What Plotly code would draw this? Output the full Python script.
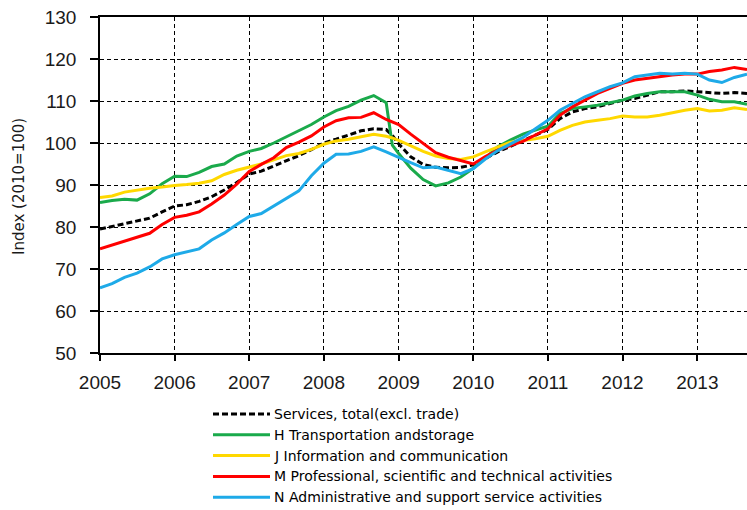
import plotly.graph_objects as go

# ---------------- data ----------------
dates = [
    "2005-01-01", "2005-03-01", "2005-05-01", "2005-07-01", "2005-09-01", "2005-11-01",
    "2006-01-01", "2006-03-01", "2006-05-01", "2006-07-01", "2006-09-01", "2006-11-01",
    "2007-01-01", "2007-03-01", "2007-05-01", "2007-07-01", "2007-09-01", "2007-11-01",
    "2008-01-01", "2008-03-01", "2008-05-01", "2008-07-01", "2008-09-01", "2008-11-01", "2008-12-01",
    "2009-01-01", "2009-03-01", "2009-05-01", "2009-07-01", "2009-09-01", "2009-11-01",
    "2010-01-01", "2010-03-01", "2010-05-01", "2010-07-01", "2010-09-01", "2010-11-01",
    "2011-01-01", "2011-03-01", "2011-05-01", "2011-07-01", "2011-09-01", "2011-11-01",
    "2012-01-01", "2012-03-01", "2012-05-01", "2012-07-01", "2012-09-01", "2012-11-01",
    "2013-01-01", "2013-03-01", "2013-05-01", "2013-07-01", "2013-09-01",
]

services_total = [
    79.5, 80.1, 80.7, 81.3, 82.1, 83.6,
    85.0, 85.3, 86.1, 87.2, 88.8, 90.6,
    92.6, 93.3, 94.5, 95.8, 97.0, 98.4,
    100.0, 100.9, 101.9, 102.9, 103.4, 103.2, 101.8,
    99.8, 96.7, 94.9, 94.2, 94.1, 94.2,
    94.8, 96.3, 97.9, 99.2, 100.5, 101.8,
    103.2, 105.8, 107.4, 108.2, 108.6, 109.4,
    110.2, 110.6, 111.4, 112.2, 112.2, 112.4,
    112.2, 112.0, 111.8, 112.0, 111.8,
]

h_transport = [
    85.8, 86.3, 86.6, 86.4, 87.9, 90.3,
    92.1, 92.0, 93.0, 94.4, 95.0, 96.9,
    98.0, 98.7, 100.0, 101.5, 102.9, 104.4,
    106.2, 107.7, 108.7, 110.2, 111.3, 109.6, 99.5,
    97.5, 94.0, 91.3, 89.8, 90.5, 91.9,
    94.0, 96.4, 99.1, 100.7, 102.1, 103.1,
    104.0, 107.0, 108.2, 108.6, 109.0, 109.6,
    110.2, 111.2, 111.8, 112.2, 112.2, 112.2,
    111.4, 110.4, 109.8, 109.8, 109.2,
]

j_information = [
    87.0, 87.4, 88.3, 88.8, 89.2, 89.5,
    89.9, 90.1, 90.4, 91.0, 92.5, 93.5,
    94.3, 95.0, 96.0, 97.0, 97.5, 98.5,
    99.7, 100.5, 100.9, 101.5, 102.1, 101.6, 101.2,
    100.6, 99.3, 98.0, 96.9, 96.3, 96.1,
    96.7, 97.9, 99.1, 100.2, 100.6, 101.0,
    101.6, 103.0, 104.2, 105.0, 105.4, 105.8,
    106.4, 106.2, 106.2, 106.6, 107.2, 107.8,
    108.2, 107.6, 107.8, 108.4, 108.0,
]

m_professional = [
    74.8, 75.7, 76.7, 77.6, 78.5, 80.6,
    82.3, 82.8, 83.6, 85.5, 87.6, 90.2,
    93.2, 94.9, 96.5, 98.9, 100.2, 101.7,
    103.8, 105.3, 106.0, 106.1, 107.2, 105.6, 105.0,
    104.4, 102.1, 99.9, 97.7, 96.6, 95.8,
    95.0, 96.8, 98.3, 99.4, 100.4, 101.9,
    103.4, 106.6, 108.6, 110.2, 111.8, 113.0,
    114.2, 115.0, 115.4, 115.8, 116.2, 116.4,
    116.4, 117.0, 117.4, 118.0, 117.5,
]

n_administrative = [
    65.5, 66.5, 68.0, 69.0, 70.5, 72.4,
    73.4, 74.0, 74.8, 76.9, 78.6, 80.6,
    82.5, 83.2, 85.0, 86.9, 88.6, 92.2,
    95.2, 97.3, 97.4, 98.0, 99.1, 97.9, 97.3,
    96.6, 95.3, 94.1, 94.3, 93.5, 92.7,
    93.9, 96.2, 98.2, 99.7, 101.3, 103.4,
    105.4, 107.8, 109.4, 111.0, 112.2, 113.4,
    114.3, 115.8, 116.2, 116.6, 116.4, 116.6,
    116.4, 115.0, 114.4, 115.6, 116.4,
]

series_names = [
    "Services, total(excl. trade)",
    "H Transportation andstorage",
    "J Information and communication",
    "M Professional, scientific and technical activities",
    "N Administrative and support service activities",
]

x_tick_vals = ["2005-01-01", "2006-01-01", "2007-01-01", "2008-01-01", "2009-01-01",
               "2010-01-01", "2011-01-01", "2012-01-01", "2013-01-01"]
x_tick_text = ["2005", "2006", "2007", "2008", "2009", "2010", "2011", "2012", "2013"]
y_ticks = [50, 60, 70, 80, 90, 100, 110, 120, 130]

# ---------------- style ----------------
W, H = 747, 510
ML, MR, MT, MB = 100, 0, 17, 157
PW, PH = W - ML - MR, H - MT - MB

colors = ["#000000", "#1aaa4b", "#ffd800", "#ff0000", "#1eaae8"]
dashes = ["6px,3px", "solid", "solid", "solid", "solid"]
values = [services_total, h_transport, j_information, m_professional, n_administrative]

tick_font = dict(family="Liberation Sans, Arial", size=19, color="#1a1a1a")
text_font = dict(family="DejaVu Sans, Verdana", size=14, color="#000000")

fig = go.Figure()
for name, vals, col, dsh in zip(series_names, values, colors, dashes):
    fig.add_trace(go.Scatter(
        x=dates, y=vals, mode="lines", name=name, showlegend=False,
        line=dict(color=col, width=3, dash=dsh),
    ))

def px_x(p):
    return (p - ML) / PW

def px_y(p):
    return (H - MB - p) / PH

shapes = []
annotations = []
for i, (name, col, dsh) in enumerate(zip(series_names, colors, dashes)):
    yy = px_y(414 + i * 20.8)
    shapes.append(dict(type="line", xref="paper", yref="paper",
                       x0=px_x(213), x1=px_x(270), y0=yy, y1=yy,
                       line=dict(color=col, width=3, dash=dsh)))
    annotations.append(dict(xref="paper", yref="paper", x=px_x(272), y=yy,
                            xanchor="left", yanchor="middle", showarrow=False,
                            text=name, font=text_font))

annotations.append(dict(xref="paper", yref="paper", x=px_x(19), y=px_y(187),
                        xanchor="center", yanchor="middle", showarrow=False,
                        textangle=-90, text="Index (2010=100)",
                        font=dict(family="DejaVu Sans, Verdana", size=15, color="#1a1a1a")))

fig.update_layout(
    width=W, height=H,
    margin=dict(l=ML, r=MR, t=MT, b=MB, pad=0),
    paper_bgcolor="white", plot_bgcolor="white",
    shapes=shapes, annotations=annotations,
    showlegend=False,
)
fig.update_xaxes(
    type="date", range=["2005-01-01", "2013-09-01"],
    tickmode="array", tickvals=x_tick_vals, ticktext=x_tick_text,
    showgrid=True, gridcolor="black", gridwidth=1, griddash="4px,3px",
    showline=True, linecolor="black", linewidth=1.5, mirror=True,
    ticks="outside", ticklen=6, tickcolor="black", tickwidth=1.5,
    tickfont=tick_font, ticklabelstandoff=5, zeroline=False,
)
fig.update_yaxes(
    range=[50, 130], tickmode="array", tickvals=y_ticks,
    showgrid=True, gridcolor="black", gridwidth=1, griddash="4px,3px",
    showline=True, linecolor="black", linewidth=1.5,
    ticks="outside", ticklen=8, tickcolor="black", tickwidth=1.5,
    tickfont=tick_font, ticklabelstandoff=10, zeroline=False,
)

fig.write_html("out.html", config={"displayModeBar": False},
               post_script="document.body.style.margin='0';document.body.style.padding='0';")
